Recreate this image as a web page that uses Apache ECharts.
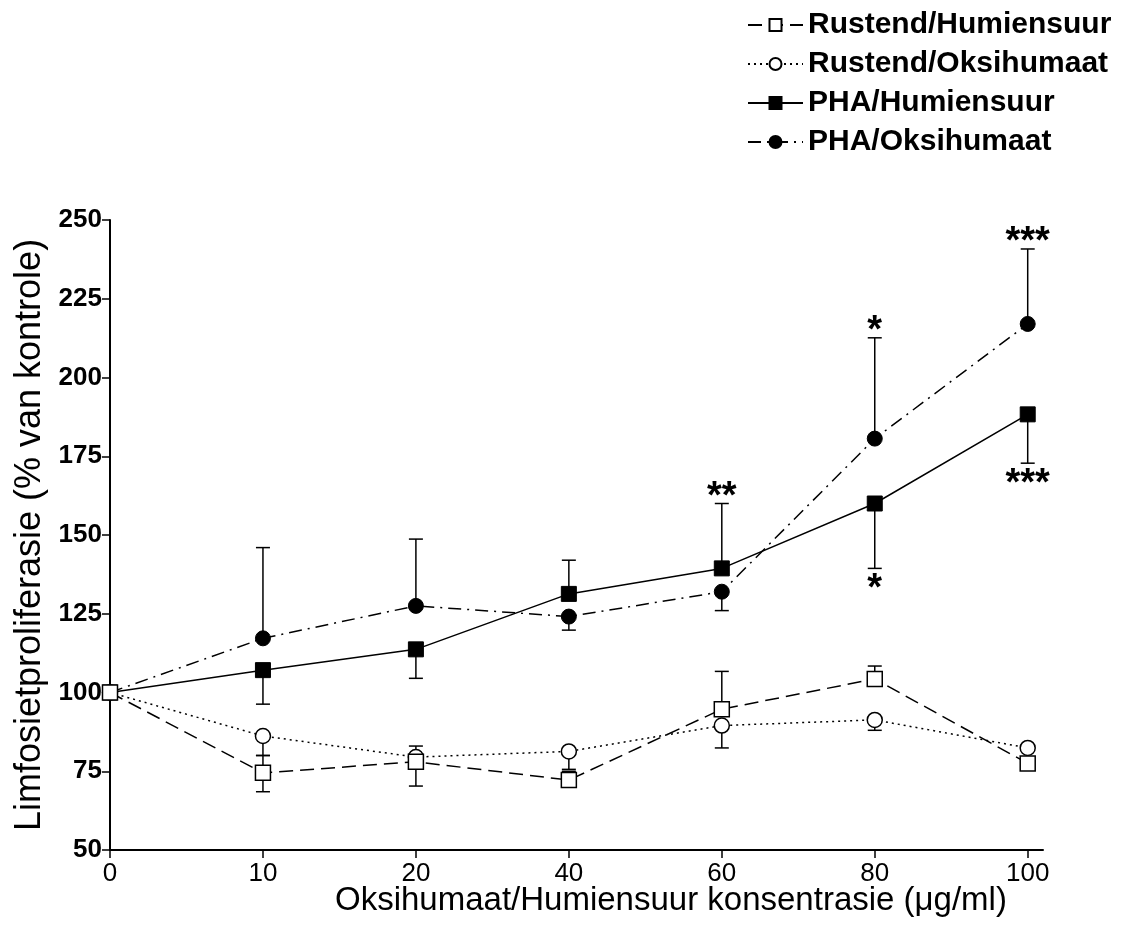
<!DOCTYPE html>
<html>
<head>
<meta charset="utf-8">
<script src="https://cdn.jsdelivr.net/npm/echarts@6/dist/echarts.min.js"></script>
<style>
html,body{margin:0;padding:0;background:#fff;}
#chart{width:1127px;height:929px;}
</style>
</head>
<body>
<div id="chart"></div>
<script>
// ---- data ----
var categories = ['0', '10', '20', '40', '60', '80', '100'];
var yTicks = [50, 75, 100, 125, 150, 175, 200, 225, 250];

var rustHum     = [100, 74.5, 78, 72.2, 94.7, 104.3, 77.5];
var rustHumLow  = [null, 68.5, 70.3, null, null, null, null];
var rustHumHigh = [null, 80, 83, 75, 106.7, 108.4, 82.8];

var rustOks     = [100, 86.2, 79.5, 81.3, 89.5, 91.3, 82.4];
var rustOksLow  = [null, 80, null, 75.6, 82.4, 88, null];
var rustOksHigh = [null, null, null, null, null, null, null];

var phaHum      = [100, 107.1, 113.7, 131.3, 139.4, 160, 188.3];
var phaHumLow   = [null, 96.3, 104.5, null, null, 139.4, 172.8];
var phaHumHigh  = [null, null, null, 142, 160, null, null];

var phaOks      = [100, 117.2, 127.5, 124.1, 132, 180.6, 217];
var phaOksLow   = [null, null, null, 119.8, 126, null, null];
var phaOksHigh  = [null, 146, 148.7, null, null, 212.6, 240.8];

// significance marks: [category index, bar end value, text, side]
var sigMarks = [
  [4, 160, '**', 'top'],
  [5, 212.6, '*', 'top'],
  [5, 139.4, '*', 'bottom'],
  [6, 240.8, '***', 'top'],
  [6, 172.8, '***', 'bottom']
];

var names = ['Rustend/Humiensuur', 'Rustend/Oksihumaat', 'PHA/Humiensuur', 'PHA/Oksihumaat'];

// ---- build ----
function pts(arr) { return arr.map(function (v, i) { return [i, v]; }); }
function errData(mean, low, high) {
  var out = [];
  mean.forEach(function (m, i) {
    if (low[i] != null) out.push([i, m, low[i]]);
    if (high[i] != null) out.push([i, m, high[i]]);
  });
  return out;
}
var allErr = [].concat(
  errData(rustHum, rustHumLow, rustHumHigh),
  errData(rustOks, rustOksLow, rustOksHigh),
  errData(phaHum, phaHumLow, phaHumHigh),
  errData(phaOks, phaOksLow, phaOksHigh)
);

var FONT = '"Liberation Sans", Arial, Helvetica, sans-serif';
var idx = categories.map(function (c, i) { return i; });

var chart = echarts.init(document.getElementById('chart'), null, {renderer: 'canvas'});
var option = {
  backgroundColor: '#ffffff',
  animation: false,
  grid: {left: 110, right: 84, top: 220, bottom: 79, containLabel: false, outerBoundsMode: 'none'},
  legend: {
    data: names,
    orient: 'vertical',
    left: 742,
    top: 5,
    itemWidth: 55,
    itemHeight: 15,
    itemGap: 9,
    textStyle: {fontFamily: FONT, fontSize: 30, fontWeight: 'bold', color: '#000'}
  },
  xAxis: {
    type: 'value',
    min: 0,
    max: 6.1,
    splitLine: {show: false},
    axisLine: {show: true, onZero: false, lineStyle: {color: '#000', width: 2}},
    axisTick: {show: true, customValues: idx, length: 8, lineStyle: {color: '#000', width: 1.5}},
    axisLabel: {
      customValues: idx,
      formatter: function (v) { return categories[Math.round(v)]; },
      fontFamily: FONT, fontSize: 26, color: '#000', margin: 11
    }
  },
  yAxis: {
    type: 'value',
    min: 50,
    max: 250,
    interval: 25,
    splitLine: {show: false},
    axisLine: {show: true, lineStyle: {color: '#000', width: 2}},
    axisTick: {show: true, length: 8, lineStyle: {color: '#000', width: 1.5}},
    axisLabel: {fontFamily: FONT, fontSize: 26, fontWeight: 'bold', color: '#000', margin: 8},
    name: 'Limfosietproliferasie (% van kontrole)',
    nameLocation: 'middle',
    nameGap: 62,
    nameTextStyle: {fontFamily: FONT, fontSize: 36, color: '#000'}
  },
  graphic: [{
    type: 'text',
    left: 335,
    top: 884,
    style: {text: 'Oksihumaat/Humiensuur konsentrasie (\u03bcg/ml)', font: '33px ' + FONT, fill: '#000'}
  }],
  series: [
    {
      type: 'custom',
      name: 'err',
      z: 1,
      silent: true,
      data: allErr,
      renderItem: function (params, api) {
        var x = api.value(0), m = api.value(1), e = api.value(2);
        var p0 = api.coord([x, m]);
        var p1 = api.coord([x, e]);
        return {
          type: 'group',
          children: [
            {type: 'line', shape: {x1: p0[0], y1: p0[1], x2: p1[0], y2: p1[1]}, style: {stroke: '#000', lineWidth: 1.5}},
            {type: 'line', shape: {x1: p1[0] - 7, y1: p1[1], x2: p1[0] + 7, y2: p1[1]}, style: {stroke: '#000', lineWidth: 1.5}}
          ]
        };
      }
    },
    {
      type: 'line', name: names[3], z: 2, data: pts(phaOks),
      symbol: 'circle', symbolSize: 15,
      itemStyle: {color: '#000', borderColor: '#000', borderWidth: 1},
      lineStyle: {color: '#000', width: 1.5, type: [13, 6, 2, 6]}
    },
    {
      type: 'line', name: names[2], z: 3, data: pts(phaHum),
      symbol: 'rect', symbolSize: 15,
      itemStyle: {color: '#000', borderColor: '#000', borderWidth: 1},
      lineStyle: {color: '#000', width: 1.5, type: 'solid'}
    },
    {
      type: 'line', name: names[1], z: 4, data: pts(rustOks),
      symbol: 'circle', symbolSize: 15,
      itemStyle: {color: '#fff', borderColor: '#000', borderWidth: 1.5},
      lineStyle: {color: '#000', width: 1.5, type: [2, 4]}
    },
    {
      type: 'line', name: names[0], z: 5, data: pts(rustHum),
      symbol: 'rect', symbolSize: 15,
      itemStyle: {color: '#fff', borderColor: '#000', borderWidth: 1.5},
      lineStyle: {color: '#000', width: 1.5, type: [14, 7]}
    },
    {
      type: 'custom',
      name: 'sig',
      z: 6,
      silent: true,
      data: sigMarks.map(function (s) { return {value: [s[0], s[1]]}; }),
      renderItem: function (params, api) {
        var d = sigMarks[params.dataIndex];
        var p = api.coord([api.value(0), api.value(1)]);
        var glyphY = d[3] === 'top' ? p[1] - 15 : p[1] + 12;
        return {
          type: 'text',
          x: p[0],
          y: glyphY + 9,
          style: {text: d[2], font: 'bold 38px ' + FONT, fill: '#000', align: 'center', verticalAlign: 'middle'}
        };
      }
    }
  ]
};
chart.setOption(option);
</script>
</body>
</html>
